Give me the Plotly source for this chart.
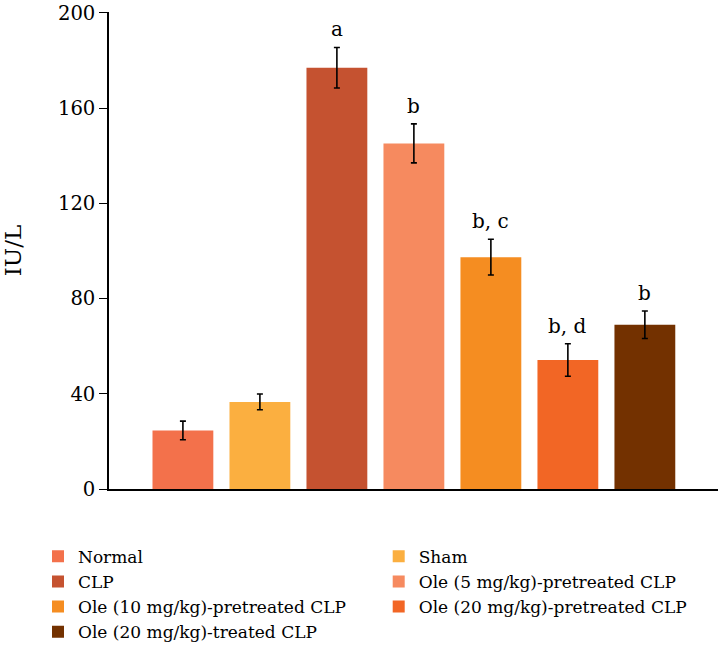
import plotly.graph_objects as go

groups = ["Normal", "Sham", "CLP", "Ole (5 mg/kg)-pretreated CLP",
          "Ole (10 mg/kg)-pretreated CLP", "Ole (20 mg/kg)-pretreated CLP",
          "Ole (20 mg/kg)-treated CLP"]
values = [24.6, 36.6, 177.0, 145.2, 97.4, 54.2, 69.0]
errors = [3.9, 3.3, 8.5, 8.2, 7.5, 6.8, 5.8]
letters = ["", "", "a", "b", "b, c", "b, d", "b"]
colors = ["#F3714B", "#FBAF40", "#C55230", "#F68A5F", "#F58D21", "#F26625", "#733100"]
yticks = [0, 40, 80, 120, 160, 200]

FONT = "DejaVu Serif"

fig = go.Figure()
for i, g in enumerate(groups):
    fig.add_trace(go.Bar(
        x=[i], y=[values[i]], name=g,
        marker=dict(color=colors[i], line=dict(width=0)),
        width=0.79,
        error_y=dict(type="data", array=[errors[i]], color="black",
                     thickness=1.6, width=3),
    ))
    if letters[i]:
        fig.add_annotation(x=i, y=values[i] + errors[i], text=letters[i],
                           showarrow=False, yanchor="bottom", yshift=4,
                           font=dict(family=FONT, size=20, color="black"))

fig.update_layout(
    width=720, height=653,
    margin=dict(l=109, r=2, t=10, b=164),
    paper_bgcolor="white", plot_bgcolor="white",
    font=dict(family=FONT, color="black"),
    barmode="overlay",
    showlegend=True,
    legend=dict(orientation="h", xref="paper", yref="paper",
                x=-0.1133, y=-0.1044, yanchor="top", xanchor="left",
                entrywidth=295.7, traceorder="normal",
                font=dict(family=FONT, size=17, color="black"),
                bgcolor="rgba(0,0,0,0)"),
    xaxis=dict(range=[-0.96, 6.95], showticklabels=False, ticks="",
               showline=True, linecolor="black", linewidth=1.5,
               showgrid=False, zeroline=False),
    yaxis=dict(range=[0, 200.4], tickvals=yticks, ticks="outside", ticklen=8,
               tickwidth=1.2, tickcolor="black", ticklabeloverflow="allow",
               showline=True, linecolor="black", linewidth=1.5,
               showgrid=False, zeroline=False,
               tickfont=dict(family=FONT, size=19.6),
               title=dict(text="IU/L", font=dict(family=FONT, size=23), standoff=33)),
)

fig.write_html("out.html", config={"displayModeBar": False},
               post_script="document.body.style.margin='0px';")
